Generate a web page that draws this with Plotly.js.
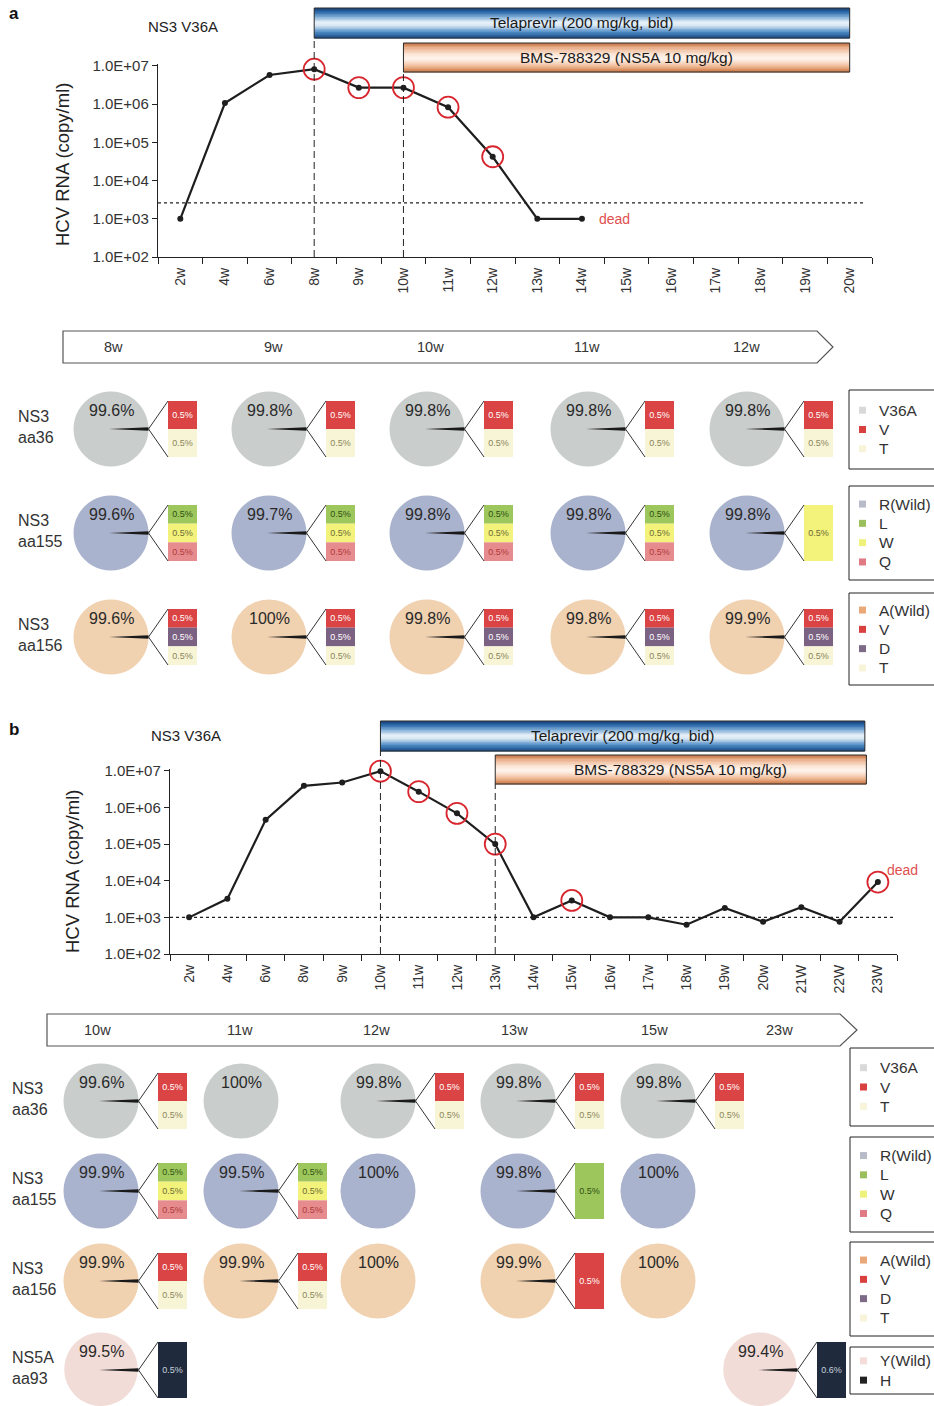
<!DOCTYPE html>
<html><head><meta charset="utf-8">
<script src="https://cdn.plot.ly/plotly-3.0.1.min.js"></script>
<style>html,body{margin:0;padding:0;background:#fff}</style>
</head><body><div id="chart" style="width:934px;height:1406px"></div>
<script>
// ================= DATA =================
// Panel a: viral load
const weeksA = ['2w','4w','6w','8w','9w','10w','11w','12w','13w','14w','15w','16w','17w','18w','19w','20w'];
const rnaA = [1.0e3, 1.07e6, 5.8e6, 8.2e6, 2.7e6, 2.7e6, 8.3e5, 4.2e4, 1.0e3, 1.0e3];
const circledA = ['8w','9w','10w','11w','12w'];
const lodA = 2.6e3;
const drugStartA = ['8w','10w'];
// Panel b: viral load
const weeksB = ['2w','4w','6w','8w','9w','10w','11w','12w','13w','14w','15w','16w','17w','18w','19w','20w','21W','22W','23W'];
const rnaB = [1.0e3, 3.2e3, 4.6e5, 3.9e6, 4.8e6, 9.8e6, 2.7e6, 6.9e5, 1.0e5, 1.0e3, 2.9e3, 1.0e3, 1.0e3, 6.3e2, 1.8e3, 7.6e2, 1.9e3, 7.6e2, 9.2e3];
const circledB = ['10w','11w','12w','13w','15w','23W'];
const lodB = 1.0e3;
const drugStartB = ['10w','13w'];

const drugNames = ['Telaprevir (200 mg/kg, bid)', 'BMS-788329 (NS5A 10 mg/kg)'];
const strainLabel = 'NS3 V36A';
const yTickVals = [1e2, 1e3, 1e4, 1e5, 1e6, 1e7];
const yTickText = ['1.0E+02','1.0E+03','1.0E+04','1.0E+05','1.0E+06','1.0E+07'];

// Panel a: deep-sequencing pies
const sampA = ['8w','9w','10w','11w','12w'];
const rowNamesA = ['NS3<br>aa36','NS3<br>aa155','NS3<br>aa156'];
const aa36A_wild  = [99.6, 99.8, 99.8, 99.8, 99.8];
const aa36A_minor = [[['V',0.5],['T',0.5]],[['V',0.5],['T',0.5]],[['V',0.5],['T',0.5]],[['V',0.5],['T',0.5]],[['V',0.5],['T',0.5]]];
const aa155A_wild  = [99.6, 99.7, 99.8, 99.8, 99.8];
const aa155A_minor = [[['L',0.5],['W',0.5],['Q',0.5]],[['L',0.5],['W',0.5],['Q',0.5]],[['L',0.5],['W',0.5],['Q',0.5]],[['L',0.5],['W',0.5],['Q',0.5]],[['W',0.5]]];
const aa156A_wild  = [99.6, 100, 99.8, 99.8, 99.9];
const aa156A_minor = [[['V',0.5],['D',0.5],['T',0.5]],[['V',0.5],['D',0.5],['T',0.5]],[['V',0.5],['D',0.5],['T',0.5]],[['V',0.5],['D',0.5],['T',0.5]],[['V',0.5],['D',0.5],['T',0.5]]];

// Panel b: deep-sequencing pies
const sampB = ['10w','11w','12w','13w','15w','23w'];
const rowNamesB = ['NS3<br>aa36','NS3<br>aa155','NS3<br>aa156','NS5A<br>aa93'];
const aa36B_wild  = [99.6, 100, 99.8, 99.8, 99.8, null];
const aa36B_minor = [[['V',0.5],['T',0.5]],[],[['V',0.5],['T',0.5]],[['V',0.5],['T',0.5]],[['V',0.5],['T',0.5]],[]];
const aa155B_wild  = [99.9, 99.5, 100, 99.8, 100, null];
const aa155B_minor = [[['L',0.5],['W',0.5],['Q',0.5]],[['L',0.5],['W',0.5],['Q',0.5]],[],[['L',0.5]],[],[]];
const aa156B_wild  = [99.9, 99.9, 100, 99.9, 100, null];
const aa156B_minor = [[['V',0.5],['T',0.5]],[['V',0.5],['T',0.5]],[],[['V',0.5]],[],[]];
const aa93B_wild  = [99.5, null, null, null, null, 99.4];
const aa93B_minor = [[['H',0.5]],[],[],[],[],[['H',0.6]]];

// Legend entries
const legAa36  = ['V36A','V','T'];
const legAa155 = ['R(Wild)','L','W','Q'];
const legAa156 = ['A(Wild)','V','D','T'];
const legAa93  = ['Y(Wild)','H'];

// ================= STYLE =================
const FONT = 'Liberation Sans, Arial, Helvetica, sans-serif';
const NARROW = 'Liberation Sans Narrow, Liberation Sans, Arial, sans-serif';
const colAa36  = {'V36A':'#c9cdcc', V:'#db4444', T:'#f8f4d6'};
const colAa155 = {'R(Wild)':'#aab3cd', L:'#9dc75c', W:'#f3f27a', Q:'#e68c8e'};
const colAa156 = {'A(Wild)':'#f0d1b0', V:'#db4444', D:'#7b6282', T:'#f8f4d6'};
const colAa93  = {'Y(Wild)':'#f2dcd7', H:'#1f2b3d'};
const legCol = {
  aa36:  {'V36A':'#d9d9d9', V:'#d94040', T:'#f8f4da'},
  aa155: {'R(Wild)':'#b8bcc8', L:'#9cbf5e', W:'#eef27a', Q:'#e07a85'},
  aa156: {'A(Wild)':'#e8a878', V:'#d94040', D:'#7d6a86', T:'#f8f4da'},
  aa93:  {'Y(Wild)':'#f4dcd8', H:'#222222'}
};
const segTextCol = {V:'#ffffff', T:'#8a875c', L:'#2f4f12', W:'#6c6c38', Q:'#b0393b', D:'#ffffff', H:'#c8d0dc'};

const W = 934, H = 1406;
const px = x => x / W;
const py = y => 1 - y / H;

const traces = [], shapes = [], annotations = [];
const barX = [], barBase = [], barY = [], barCol = [], barText = [], barTextCol = [];

function ann(x, y, text, opts) {
  annotations.push(Object.assign({xref:'x3', yref:'y3', x:x, y:y, text:text, showarrow:false,
    xanchor:'center', yanchor:'middle',
    font:{family:FONT, size:15, color:'#333'}}, opts || {}));
}

// ---------- charts ----------
function addChart(weeks, rna, circled, xa, ya) {
  traces.push({type:'scatter', x: weeks.slice(0, rna.length), y: rna, mode:'lines+markers',
    xaxis: xa, yaxis: ya, cliponaxis:false, hoverinfo:'skip',
    line:{color:'#1e1e1e', width:2.2}, marker:{size:6, color:'#1e1e1e'}});
  traces.push({type:'scatter', x: circled, y: circled.map(w => rna[weeks.indexOf(w)]), mode:'markers',
    xaxis: xa, yaxis: ya, cliponaxis:false, hoverinfo:'skip',
    marker:{symbol:'circle-open', size:21, color:'#d8262f', line:{width:1.8, color:'#d8262f'}}});
}
addChart(weeksA, rnaA, circledA, 'x', 'y');
addChart(weeksB, rnaB, circledB, 'x2', 'y2');

// LOD dashed lines
shapes.push({type:'line', xref:'x', yref:'y', x0:-0.5, x1:15.35, y0:lodA, y1:lodA, line:{color:'#222', width:1.2, dash:'3px,3px'}});
shapes.push({type:'line', xref:'x2', yref:'y2', x0:-0.5, x1:18.4, y0:lodB, y1:lodB, line:{color:'#222', width:1.2, dash:'3px,3px'}});

// dead labels
annotations.push({xref:'x', yref:'y', x: rnaA.length - 1, y: Math.log10(rnaA[rnaA.length-1]), text:'dead',
  showarrow:false, xanchor:'left', yanchor:'middle', xshift:15, font:{family:FONT, size:14, color:'#e0504f'}});
annotations.push({xref:'x2', yref:'y2', x: rnaB.length - 1, y: Math.log10(rnaB[rnaB.length-1]), text:'dead',
  showarrow:false, xanchor:'left', yanchor:'middle', xshift:7, yshift:12, font:{family:FONT, size:14, color:'#e0504f'}});

// gradient drug bars
function hexToRgb(h){ const n = parseInt(h.slice(1), 16); return [n>>16&255, n>>8&255, n&255]; }
function interp(stops, t) {
  for (let i = 0; i < stops.length - 1; i++) {
    const [t0, c0] = stops[i], [t1, c1] = stops[i+1];
    if (t >= t0 && t <= t1) {
      const f = (t - t0) / (t1 - t0), a = hexToRgb(c0), b = hexToRgb(c1);
      return 'rgb(' + a.map((v, k) => Math.round(v + (b[k] - v) * f)).join(',') + ')';
    }
  }
  return stops[stops.length-1][1];
}
const blueStops = [[0,'#163f75'],[0.14,'#2c6aaa'],[0.32,'#8db6dc'],[0.48,'#eaf2f9'],[0.6,'#d4e4f2'],[0.8,'#4f8cc6'],[1,'#184a86']];
const orangeStops = [[0,'#c27144'],[0.15,'#e8aa84'],[0.38,'#fbe4d4'],[0.55,'#fff5ee'],[0.75,'#f4c8aa'],[0.9,'#e2996b'],[1,'#c47548']];
function gradBar(xref, i0, i1, yTop, yBot, stops, label) {
  const N = 20, h = (yBot - yTop) / N;
  for (let k = 0; k < N; k++) {
    shapes.push({type:'rect', xref:xref, yref:'paper', x0:i0, x1:i1,
      y0: py(yTop + k*h), y1: py(yTop + (k+1)*h + 0.5), fillcolor: interp(stops, (k + 0.5) / N), line:{width:0}, layer:'above'});
  }
  shapes.push({type:'rect', xref:xref, yref:'paper', x0:i0, x1:i1, y0:py(yTop), y1:py(yBot),
    line:{color:'#2a2a2a', width:1}, fillcolor:'rgba(0,0,0,0)', layer:'above'});
  annotations.push({xref:xref, yref:'paper', x:(i0 + i1) / 2, y: py((yTop + yBot) / 2), text:label, showarrow:false,
    xanchor:'center', yanchor:'middle', font:{family:NARROW, size:15.5, color:'#1a1a1a'}});
}
gradBar('x', weeksA.indexOf(drugStartA[0]), 15, 8, 38, blueStops, drugNames[0]);
gradBar('x', weeksA.indexOf(drugStartA[1]), 15, 43, 72, orangeStops, drugNames[1]);
gradBar('x2', weeksB.indexOf(drugStartB[0]), 17.66, 721, 751, blueStops, drugNames[0]);
gradBar('x2', weeksB.indexOf(drugStartB[1]), 17.7, 755, 784, orangeStops, drugNames[1]);

// vertical dashed start lines
function vline(xref, idx, yTop, yBot) {
  shapes.push({type:'line', xref:xref, yref:'paper', x0:idx, x1:idx, y0:py(yBot), y1:py(yTop),
    line:{color:'#222', width:1, dash:'7px,4px'}});
}
vline('x', weeksA.indexOf(drugStartA[0]), 38, 257);
vline('x', weeksA.indexOf(drugStartA[1]), 72, 257);
vline('x2', weeksB.indexOf(drugStartB[0]), 751, 954);
vline('x2', weeksB.indexOf(drugStartB[1]), 784, 954);

// panel letters, strain labels, y titles
ann(14, 13, '<b>a</b>', {font:{family:FONT, size:17, color:'#111'}});
ann(14, 729, '<b>b</b>', {font:{family:FONT, size:17, color:'#111'}});
ann(183, 26, strainLabel, {font:{family:NARROW, size:15, color:'#222'}});
ann(186, 735, strainLabel, {font:{family:NARROW, size:15, color:'#222'}});
ann(62, 165, 'HCV RNA (copy/ml)', {textangle:-90, font:{family:FONT, size:18.5, color:'#222'}});
ann(72, 872, 'HCV RNA (copy/ml)', {textangle:-90, font:{family:FONT, size:18.5, color:'#222'}});

// ---------- timeline arrows ----------
function addArrow(x0, x1, tip, top, bot, labels, labelX) {
  const mid = (top + bot) / 2;
  shapes.push({type:'path', xref:'x3', yref:'y3',
    path:'M ' + x0 + ' ' + top + ' L ' + x1 + ' ' + top + ' L ' + tip + ' ' + mid + ' L ' + x1 + ' ' + bot + ' L ' + x0 + ' ' + bot + ' Z',
    line:{color:'#555', width:1.2}, fillcolor:'#ffffff', layer:'below'});
  labels.forEach((l, i) => ann(labelX[i], mid, l, {font:{family:FONT, size:14.5, color:'#333'}}));
}
addArrow(63, 817, 833, 331, 363, sampA, [113, 273, 430, 587, 746]);
addArrow(47, 840, 857, 1014, 1046, sampB, [97, 240, 376, 514, 654, 779]);

// ---------- pie grids ----------
function addPieGrid(rows, rowNames, colX, rowY, r, labelX) {
  rows.forEach((row, ri) => {
    const cy = rowY[ri];
    ann(labelX, cy - 2, rowNames[ri], {xanchor:'left', align:'left', font:{family:FONT, size:16, color:'#333'}});
    row.wild.forEach((w, ci) => {
      if (w === null) return;
      const cx = colX[ci];
      const minorTotal = Math.max(0, 100 - w);
      traces.push({type:'pie', values:[minorTotal, w], labels:['minor','wild'], sort:false, direction:'clockwise',
        rotation: 90 - minorTotal * 3.6 / 2, textinfo:'none', hoverinfo:'skip', showlegend:false,
        marker:{colors:['#1a1a1a', row.colors[row.wildName]], line:{width:0}},
        domain:{x:[px(cx - r), px(cx + r)], y:[py(cy + r), py(cy - r)]}});
      ann(cx, cy - 19, w + '%', {font:{family:FONT, size:16, color:'#2a2a2a'}});
      const segs = row.minor[ci];
      if (!segs.length) return;
      shapes.push({type:'path', xref:'x3', yref:'y3', layer:'above',
        path:'M ' + (cx - 2) + ' ' + cy + ' L ' + (cx + r) + ' ' + (cy - 1.8) + ' L ' + (cx + r) + ' ' + (cy + 1.8) + ' Z',
        fillcolor:'#1a1a1a', line:{width:0}});
      const bl = cx + 57, top = cy - 28, tot = 56, hseg = tot / segs.length;
      shapes.push({type:'line', xref:'x3', yref:'y3', x0:cx + r, y0:cy, x1:bl, y1:top, line:{color:'#333', width:1}});
      shapes.push({type:'line', xref:'x3', yref:'y3', x0:cx + r, y0:cy, x1:bl, y1:top + tot, line:{color:'#333', width:1}});
      segs.forEach(([res, pct], si) => {
        barX.push(bl + 14.5); barBase.push(top + si * hseg); barY.push(hseg);
        barCol.push(row.colors[res]); barText.push(pct.toFixed(1) + '%'); barTextCol.push(segTextCol[res]);
      });
    });
  });
}
addPieGrid([
  {wild:aa36A_wild, minor:aa36A_minor, colors:colAa36, wildName:legAa36[0]},
  {wild:aa155A_wild, minor:aa155A_minor, colors:colAa155, wildName:legAa155[0]},
  {wild:aa156A_wild, minor:aa156A_minor, colors:colAa156, wildName:legAa156[0]}
], rowNamesA, [111, 269, 427, 588, 747], [429, 533, 637], 37.5, 16);
addPieGrid([
  {wild:aa36B_wild, minor:aa36B_minor, colors:colAa36, wildName:legAa36[0]},
  {wild:aa155B_wild, minor:aa155B_minor, colors:colAa155, wildName:legAa155[0]},
  {wild:aa156B_wild, minor:aa156B_minor, colors:colAa156, wildName:legAa156[0]},
  {wild:aa93B_wild, minor:aa93B_minor, colors:colAa93, wildName:legAa93[0]}
], rowNamesB, [101, 241, 378, 518, 658, 760], [1101, 1191, 1281, 1370], 37.5, 10);

traces.push({type:'bar', x:barX, y:barY, base:barBase, width:29, xaxis:'x3', yaxis:'y3',
  marker:{color:barCol, line:{width:0}}, text:barText, textposition:'inside', insidetextanchor:'middle',
  textangle:0, constraintext:'none', textfont:{family:FONT, size:9, color:barTextCol}, hoverinfo:'skip', showlegend:false});

// ---------- custom legends ----------
function addLegends(left, boxes, groups) {
  groups.forEach((g, gi) => {
    const [t, b] = boxes[gi];
    shapes.push({type:'rect', xref:'x3', yref:'y3', x0:left, x1:945, y0:t, y1:b, line:{color:'#222', width:1}, fillcolor:'rgba(0,0,0,0)'});
    const mid = (t + b) / 2, n = g.items.length;
    g.items.forEach((name, i) => {
      const y = mid + (i - (n - 1) / 2) * 19.3;
      shapes.push({type:'rect', xref:'x3', yref:'y3', x0:left + 10, x1:left + 17, y0:y - 3.5, y1:y + 3.5, fillcolor:g.colors[name], line:{width:0}});
      ann(left + 28, y, name, {xanchor:'left', font:{family:FONT, size:15.5, color:'#333'}});
    });
  });
}
addLegends(849, [[390,469],[486,580],[593,685]], [
  {items:legAa36, colors:legCol.aa36}, {items:legAa155, colors:legCol.aa155}, {items:legAa156, colors:legCol.aa156}]);
addLegends(850, [[1048,1126],[1137,1232],[1242,1336],[1347,1394]], [
  {items:legAa36, colors:legCol.aa36}, {items:legAa155, colors:legCol.aa155}, {items:legAa156, colors:legCol.aa156}, {items:legAa93, colors:legCol.aa93}]);

// ================= LAYOUT =================
function xAxis(weeks, x0, x1, anchor) {
  return {type:'category', categoryorder:'array', categoryarray:weeks, range:[-0.5, weeks.length - 0.5],
    domain:[px(x0), px(x1)], anchor:anchor, showline:true, linecolor:'#222', linewidth:1.2,
    ticks:'outside', tickson:'boundaries', ticklen:6, tickcolor:'#222', tickwidth:1, ticklabelstandoff:4,
    tickangle:-90, tickfont:{family:FONT, size:14, color:'#333'}, showgrid:false, zeroline:false, fixedrange:true};
}
function yAxis(yBot, yTop, anchor) {
  return {type:'log', range:[2, 7.05], domain:[py(yBot), py(yTop)], anchor:anchor, showline:true, linecolor:'#222', linewidth:1.2,
    tickvals:yTickVals, ticktext:yTickText, ticks:'outside', ticklen:5, tickcolor:'#222',
    tickfont:{family:FONT, size:15, color:'#333'}, showgrid:false, zeroline:false, fixedrange:true};
}
const layout = {
  width:W, height:H, margin:{l:0, r:0, t:0, b:0}, paper_bgcolor:'#ffffff', plot_bgcolor:'rgba(0,0,0,0)',
  showlegend:false, barmode:'overlay', font:{family:FONT, color:'#222'},
  xaxis: xAxis(weeksA, 158, 872, 'y'),
  yaxis: yAxis(257, 64, 'x'),
  xaxis2: xAxis(weeksB, 170, 897, 'y2'),
  yaxis2: yAxis(954, 769, 'x2'),
  xaxis3: {domain:[0,1], range:[0,W], visible:false, anchor:'y3', fixedrange:true},
  yaxis3: {domain:[0,1], range:[H,0], visible:false, anchor:'x3', fixedrange:true},
  shapes: shapes, annotations: annotations
};
Plotly.newPlot('chart', traces, layout, {staticPlot:true, displayModeBar:false});
</script></body></html>
